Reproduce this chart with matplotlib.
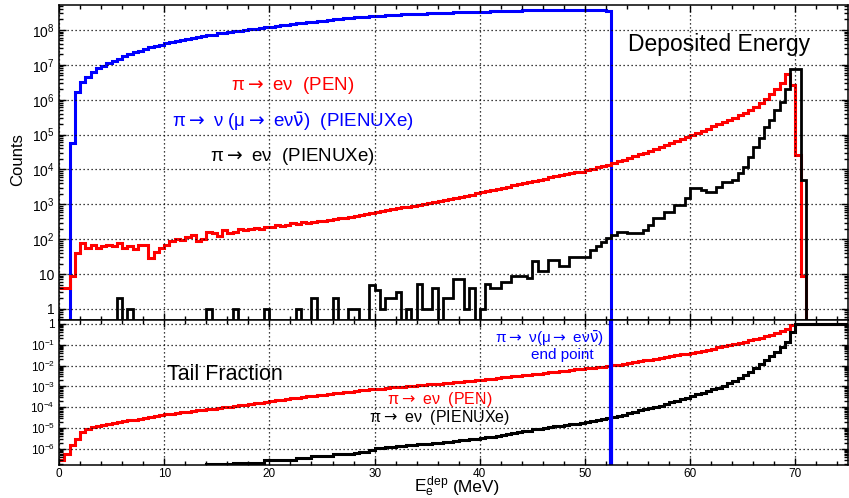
import numpy as np
import matplotlib
matplotlib.use('Agg')
import matplotlib.pyplot as plt
from matplotlib.ticker import FixedLocator, FixedFormatter, MultipleLocator, LogLocator, NullFormatter

plt.rcParams['font.family'] = ['Liberation Sans', 'DejaVu Sans']
plt.rcParams['mathtext.fontset'] = 'custom'
plt.rcParams['mathtext.rm'] = 'Liberation Sans'
plt.rcParams['mathtext.it'] = 'Liberation Sans'
plt.rcParams['mathtext.bf'] = 'Liberation Sans:bold'

# 0.5 MeV bins from 0 to 75 MeV
bin_edges = np.arange(0, 75.01, 0.5)

# ---- deposited energy, log10(counts) per bin, None = empty bin ----
# pi -> nu (mu -> e nu nubar), PIENUXe
blue_log = [None, None, 4.76, 6.23, 6.52, 6.66, 6.80, 6.90, 6.97, 7.05,
            7.12, 7.18, 7.24, 7.30, 7.36, 7.41, 7.46, 7.50, 7.54, 7.58,
            7.62, 7.65, 7.68, 7.71, 7.74, 7.77, 7.80, 7.82, 7.85, 7.87,
            7.90, 7.92, 7.94, 7.96, 7.98, 8.00, 8.02, 8.04, 8.06, 8.08,
            8.10, 8.12, 8.14, 8.15, 8.17, 8.19, 8.20, 8.22, 8.24, 8.26,
            8.27, 8.29, 8.31, 8.32, 8.33, 8.35, 8.36, 8.37, 8.38, 8.39,
            8.40, 8.41, 8.42, 8.43, 8.44, 8.45, 8.45, 8.46, 8.47, 8.47,
            8.48, 8.49, 8.49, 8.50, 8.50, 8.51, 8.51, 8.52, 8.52, 8.53,
            8.53, 8.53, 8.54, 8.54, 8.54, 8.55, 8.55, 8.55, 8.56, 8.56,
            8.56, 8.57, 8.57, 8.57, 8.57, 8.58, 8.58, 8.58, 8.58, 8.58,
            8.58, 8.57, 8.57, 8.56, 8.55] + [None] * 45

# pi -> e nu, PEN
red_log = [0.60, 0.60, 0.93, 1.60, 1.89, 1.75, 1.84, 1.75, 1.80, 1.84,
           1.80, 1.90, 1.75, 1.80, 1.72, 1.82, 1.82, 1.47, 1.63, 1.75,
           1.82, 1.94, 2.00, 1.98, 2.07, 2.12, 1.96, 2.00, 2.22, 2.17,
           2.10, 2.25, 2.18, 2.22, 2.30, 2.27, 2.30, 2.33, 2.28, 2.36,
           2.36, 2.42, 2.38, 2.40, 2.45, 2.43, 2.48, 2.47, 2.50, 2.52,
           2.53, 2.55, 2.58, 2.60, 2.60, 2.64, 2.66, 2.70, 2.73, 2.76,
           2.79, 2.80, 2.84, 2.86, 2.88, 2.91, 2.93, 2.96, 2.99, 3.02,
           3.04, 3.07, 3.10, 3.12, 3.15, 3.18, 3.21, 3.25, 3.28, 3.32,
           3.36, 3.39, 3.42, 3.45, 3.48, 3.51, 3.54, 3.57, 3.60, 3.63,
           3.66, 3.70, 3.73, 3.77, 3.80, 3.84, 3.87, 3.90, 3.92, 3.94,
           3.98, 4.02, 4.06, 4.10, 4.14, 4.18, 4.23, 4.28, 4.33, 4.38,
           4.43, 4.48, 4.53, 4.59, 4.64, 4.70, 4.76, 4.82, 4.88, 4.94,
           4.99, 5.05, 5.11, 5.17, 5.24, 5.30, 5.36, 5.42, 5.48, 5.55,
           5.62, 5.70, 5.80, 5.92, 6.03, 6.15, 6.30, 6.47, 6.74, 6.42,
           4.42, 0.93] + [None] * 8

# pi -> e nu, PIENUXe
black_log = [None] * 11 + [
             0.30, None, 0.00, None, None, None, None, None, None, None,
             None, None, None, None, None, None, None, 0.00, None, None,
             None, None, 0.00, None, None, None, None, None, 0.00, None,
             None, None, None, None, 0.00, None, None, 0.30, None, None,
             None, 0.30, None, None, 0.00, 0.00, None, None, 0.69, 0.54,
             0.00, 0.30, 0.30, 0.48, None, 0.00, None, 0.70, 0.00, 0.00,
             0.60, None, 0.30, 0.30, 0.85, 0.85, 0.00, 0.60, None, 0.00,
             0.70, 0.60, 0.60, 0.78, 0.78, 0.95, 0.95, 0.95, 0.90, 1.36,
             1.10, 1.10, 1.40, 1.40, 1.23, 1.23, 1.48, 1.48, 1.50, 1.50,
             1.69, 1.79, 1.93, 2.03, 2.12, 2.22, 2.22, 2.17, 2.17, 2.17,
             2.27, 2.41, 2.60, 2.60, 2.79, 2.79, 2.98, 2.98, 3.17, 3.46,
             3.46, 3.41, 3.36, 3.36, 3.51, 3.65, 3.65, 3.70, 3.89, 4.08,
             4.37, 4.65, 4.89, 5.23, 5.42, 5.71, 5.94, 6.30, 6.87, 6.87,
             3.70] + [None] * 8

# ---- tail fraction, log10 per bin ----
red_tail_log = [-6.55, -6.25, -5.80, -5.50, -5.20, -5.02, -4.94, -4.88, -4.83, -4.79,
                -4.75, -4.71, -4.67, -4.63, -4.59, -4.55, -4.51, -4.47, -4.43, -4.38,
                -4.33, -4.30, -4.27, -4.24, -4.21, -4.18, -4.15, -4.12, -4.09, -4.06,
                -4.03, -4.00, -3.97, -3.94, -3.91, -3.88, -3.85, -3.81, -3.78, -3.75,
                -3.70, -3.66, -3.63, -3.60, -3.57, -3.54, -3.51, -3.48, -3.45, -3.42,
                -3.39, -3.36, -3.33, -3.30, -3.27, -3.25, -3.22, -3.19, -3.17, -3.14,
                -3.12, -3.10, -3.07, -3.05, -3.03, -3.01, -2.98, -2.96, -2.94, -2.92,
                -2.90, -2.88, -2.86, -2.84, -2.82, -2.79, -2.77, -2.75, -2.72, -2.70,
                -2.67, -2.65, -2.62, -2.60, -2.57, -2.55, -2.52, -2.50, -2.47, -2.45,
                -2.42, -2.39, -2.36, -2.33, -2.30, -2.27, -2.24, -2.21, -2.18, -2.15,
                -2.13, -2.10, -2.07, -2.05, -2.02, -1.99, -1.95, -1.91, -1.87, -1.83,
                -1.79, -1.75, -1.71, -1.67, -1.63, -1.59, -1.55, -1.51, -1.46, -1.42,
                -1.38, -1.33, -1.28, -1.23, -1.18, -1.13, -1.08, -1.03, -0.97, -0.91,
                -0.85, -0.79, -0.72, -0.66, -0.59, -0.52, -0.45, -0.36, -0.24, -0.06] + [0.0] * 10

black_tail_log = [None] * 28 + [-6.74] * 5 + [-6.66] * 6 + [-6.55] * 6 + [-6.45] * 3 + \
                 [-6.35] * 4 + [-6.26] * 3 + [-6.22, -6.18, -6.16, -6.14] + [
                 -6.03, -5.97, -5.95, -5.92, -5.89, -5.85, -5.85, -5.83, -5.83, -5.77, -5.76,
                 -5.75, -5.71, -5.71, -5.69, -5.67, -5.61, -5.56, -5.55, -5.52, -5.52,
                 -5.49, -5.45, -5.42, -5.39, -5.34, -5.30, -5.25, -5.20, -5.16, -5.13,
                 -5.06, -5.03, -5.00, -4.95, -4.91, -4.88, -4.85, -4.81, -4.78, -4.75,
                 -4.72, -4.67, -4.63, -4.58, -4.53, -4.47, -4.41, -4.35, -4.28, -4.21,
                 -4.15, -4.09, -4.04, -3.98, -3.92, -3.84, -3.75, -3.69, -3.61, -3.54,
                 -3.46, -3.38, -3.30, -3.22, -3.14, -3.06, -2.98, -2.85, -2.72, -2.58,
                 -2.45, -2.29, -2.13, -1.93, -1.73, -1.53, -1.33, -1.09, -0.85, -0.37] + [0.0] * 10

endpoint = 52.5

ARROW = r'$\rightarrow$ '
NUBAR = r'$\mathrm{\bar{\nu}}$'


def to_counts(logs, empty=1e-3):
    return np.array([empty if v is None else 10.0 ** v for v in logs])


def style_axis(ax):
    ax.set_xlim(0, 75)
    ax.xaxis.set_major_locator(MultipleLocator(10))
    ax.xaxis.set_minor_locator(MultipleLocator(2))
    ax.tick_params(which='both', direction='in', top=True, right=True, width=1)
    ax.tick_params(which='major', length=5)
    ax.tick_params(which='minor', length=3)
    ax.grid(which='major', color='k', linestyle=(0, (1, 2.2)), linewidth=0.9)
    for s in ax.spines.values():
        s.set_linewidth(1.1)


def label(ax, x, logy, s, color, size):
    ax.text(x, 10 ** logy, s, color=color, fontsize=size, ha='center', va='center',
            math_fontfamily='dejavusans')


fig = plt.figure(figsize=(8.49, 4.98), dpi=100)
ax1 = fig.add_axes([0.0695, 0.3574, 0.9293, 0.6325])
ax2 = fig.add_axes([0.0695, 0.0663, 0.9293, 0.2912])

# ---------- top: deposited energy ----------
ax1.set_yscale('log')
ax1.stairs(to_counts(blue_log), bin_edges, baseline=None, color='#0000ff', lw=2.2)
ax1.stairs(to_counts(red_log), bin_edges, baseline=None, color='#ff0000', lw=2.2)
ax1.stairs(to_counts(black_log), bin_edges, baseline=None, color='k', lw=2.0)
ax1.set_ylim(0.48, 5.2e8)
style_axis(ax1)
top_ticks = [10.0 ** k for k in range(0, 9)]
ax1.yaxis.set_major_locator(FixedLocator(top_ticks))
ax1.yaxis.set_major_formatter(FixedFormatter(['1', '10'] + [r'$10^{%d}$' % k for k in range(2, 9)]))
ax1.yaxis.set_minor_locator(LogLocator(base=10, subs=np.arange(2, 10), numticks=20))
ax1.yaxis.set_minor_formatter(NullFormatter())
ax1.tick_params(axis='y', labelsize=10, pad=3)
ax1.tick_params(axis='x', labelbottom=False)

ax1.text(62.7, 10 ** 7.57, 'Deposited Energy', fontsize=16.5, ha='center', va='center')
label(ax1, 22.2, 6.42, 'π' + ARROW + 'eν  (PEN)', '#ff0000', 13.5)
label(ax1, 22.2, 5.36, 'π' + ARROW + 'ν (μ' + ARROW + 'eν' + NUBAR + ')  (PIENUXe)', '#0000ff', 13.5)
label(ax1, 22.2, 4.36, 'π' + ARROW + 'eν  (PIENUXe)', 'k', 13.5)

# ---------- bottom: tail fraction ----------
ax2.set_yscale('log')
ax2.stairs(to_counts(red_tail_log, 1e-9), bin_edges, baseline=None, color='#ff0000', lw=2.2)
ax2.stairs(to_counts(black_tail_log, 1e-9), bin_edges, baseline=None, color='k', lw=2.2)
ax2.axvline(endpoint, color='#0000ff', lw=3)
ax2.set_ylim(1.7e-7, 1.55)
style_axis(ax2)
bot_ticks = [10.0 ** -k for k in range(0, 7)]
ax2.yaxis.set_major_locator(FixedLocator(bot_ticks))
ax2.yaxis.set_major_formatter(FixedFormatter(['1'] + [r'$10^{-%d}$' % k for k in range(1, 7)]))
ax2.yaxis.set_minor_locator(LogLocator(base=10, subs=np.arange(2, 10), numticks=20))
ax2.yaxis.set_minor_formatter(NullFormatter())
ax2.tick_params(axis='y', labelsize=8.5, pad=3)
ax2.tick_params(axis='x', labelsize=8.5, pad=2)

ax2.text(15.8, 10 ** -2.45, 'Tail Fraction', fontsize=15.5, ha='center', va='center')
label(ax2, 36.2, -3.65, 'π' + ARROW + 'eν  (PEN)', '#ff0000', 11.5)
label(ax2, 36.2, -4.51, 'π' + ARROW + 'eν  (PIENUXe)', 'k', 11.5)
label(ax2, 46.6, -0.70, 'π' + ARROW + 'ν(μ' + ARROW + 'eν' + NUBAR + ')', '#0000ff', 11)
label(ax2, 47.8, -1.50, 'end point', '#0000ff', 11)

fig.text(18 / 849, 1 - 160 / 498, 'Counts', rotation=90, fontsize=12, ha='center', va='center')
fig.text(449 / 849, 1 - 492 / 498, r'$E_{e}^{dep}$', fontsize=12.5, ha='right', va='baseline')
fig.text(453 / 849, 1 - 492 / 498, '(MeV)', fontsize=12.5, ha='left', va='baseline')

fig.savefig('out.png', dpi=100)
